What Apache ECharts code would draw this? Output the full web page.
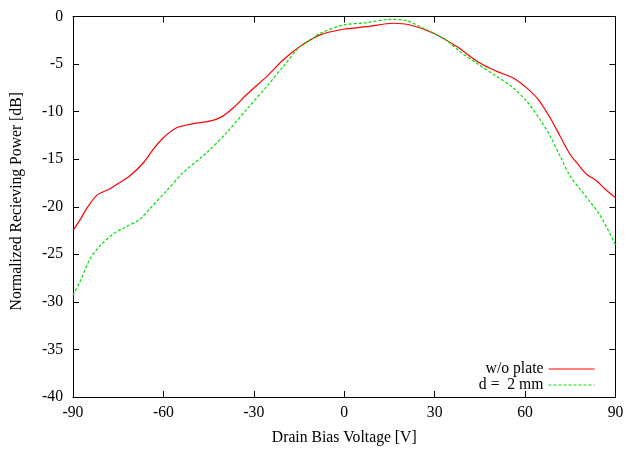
<!DOCTYPE html>
<html><head><meta charset="utf-8">
<script src="https://cdn.jsdelivr.net/npm/echarts@6/dist/echarts.min.js"></script>
<style>html,body{margin:0;padding:0;background:#fff}#c{width:627px;height:451px}</style>
</head><body><div id="c"></div>
<script>
var xTicks = [-90, -60, -30, 0, 30, 60, 90];
var yTicks = [-40, -35, -30, -25, -20, -15, -10, -5, 0];
var seriesNames = ['w/o plate', 'd =  2 mm'];
var redX = [-90, -87.5, -85.5, -82.1, -77.7, -74.7, -71.1, -66.7, -63.4, -60.0, -55.6, -50.1, -44.6, -40.7, -36.8, -32.4, -25.7, -20.2, -14.7, -8.0, -0.3, 7.4, 16.2, 21.9, 29.6, 37.3, 45.0, 50.6, 56.1, 60.5, 64.4, 68.3, 71.6, 74.9, 77.1, 80.4, 83.7, 86.5, 90];
var redY = [-22.5, -21.3, -20.2, -18.8, -18.1, -17.5, -16.75, -15.4, -13.96, -12.74, -11.7, -11.27, -11.0, -10.55, -9.6, -8.2, -6.3, -4.55, -3.16, -1.93, -1.34, -1.07, -0.71, -0.89, -1.76, -3.16, -4.9, -5.77, -6.46, -7.5, -8.73, -10.65, -12.57, -14.48, -15.35, -16.58, -17.27, -18.14, -19.05];
var greenX = [-90, -87.7, -84.4, -81.0, -76.6, -73.3, -67.8, -64.5, -58.9, -53.4, -45.6, -39.0, -32.4, -25.7, -20.2, -14.7, -10.3, -8.0, -0.3, 7.4, 15.2, 20.7, 26.3, 32.9, 38.4, 43.9, 50.6, 56.1, 60.5, 64.9, 68.3, 71.6, 74.9, 78.2, 81.6, 84.9, 90];
var greenY = [-29.3, -27.9, -25.5, -24.1, -22.85, -22.25, -21.3, -20.2, -18.3, -16.4, -14.3, -12.2, -9.78, -7.34, -5.25, -3.16, -2.28, -1.76, -0.89, -0.65, -0.3, -0.44, -1.24, -2.28, -3.68, -4.9, -6.3, -7.5, -8.9, -10.8, -12.57, -14.66, -16.75, -18.14, -19.5, -20.9, -24.0];

function zip(a, b) { return a.map(function (v, i) { return [v, b[i]]; }); }
var font = '"Liberation Serif", "DejaVu Serif", serif';
var fs = 15.7;
var axBase = {
  min: -90, max: 90, interval: 30,
  axisLine: {show: true, onZero: false, lineStyle: {color: '#000', width: 1}},
  axisTick: {show: true, inside: true, length: 6, lineStyle: {color: '#000'}},
  splitLine: {show: false}
};
var chart = echarts.init(document.getElementById('c'));
chart.setOption({
  animation: false,
  backgroundColor: '#fff',
  textStyle: {fontFamily: font},
  grid: {left: 73, right: 11.5, top: 16.5, bottom: 52},
  legend: {
    orient: 'vertical', align: 'right', right: 27, bottom: 53,
    itemWidth: 46, itemHeight: 10, itemGap: 0,
    itemStyle: {opacity: 0},
    lineStyle: {width: 1},
    textStyle: {fontFamily: font, fontSize: fs, color: '#000', lineHeight: 16},
    data: seriesNames
  },
  xAxis: [
    Object.assign({}, axBase, {type: 'value', position: 'bottom',
      name: 'Drain Bias Voltage [V]', nameLocation: 'middle', nameGap: 33,
      nameTextStyle: {fontFamily: font, fontSize: fs, color: '#000'},
      axisLabel: {fontFamily: font, fontSize: fs, color: '#000', margin: 8}}),
    Object.assign({}, axBase, {type: 'value', position: 'top', axisLabel: {show: false}})
  ],
  yAxis: [
    Object.assign({}, axBase, {type: 'value', position: 'left', min: -40, max: 0, interval: 5,
      name: 'Normalized Recieving Power [dB]', nameLocation: 'middle', nameGap: 48,
      nameTextStyle: {fontFamily: font, fontSize: fs, color: '#000', padding: [0, 0, 0, 11]},
      axisLabel: {fontFamily: font, fontSize: fs, color: '#000', margin: 10}}),
    Object.assign({}, axBase, {type: 'value', position: 'right', min: -40, max: 0, interval: 5, axisLabel: {show: false}})
  ],
  series: [
    {name: seriesNames[0], type: 'line', smooth: 0.3, symbol: 'none', data: zip(redX, redY),
      lineStyle: {color: '#ff0000', width: 1.2}, itemStyle: {color: '#ff0000'}},
    {name: seriesNames[1], type: 'line', smooth: 0.3, symbol: 'none', data: zip(greenX, greenY),
      lineStyle: {color: '#00e000', width: 1.2, type: [3, 2]}, itemStyle: {color: '#00e000'}}
  ]
});
</script></body></html>
